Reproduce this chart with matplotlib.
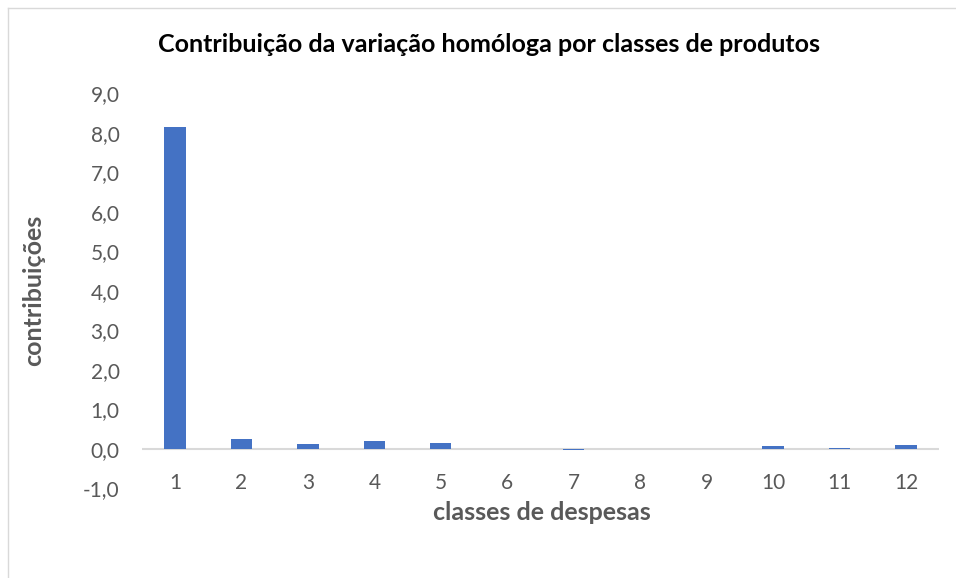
import matplotlib
matplotlib.use("Agg")
import matplotlib.pyplot as plt
from matplotlib.lines import Line2D

categories = [str(i) for i in range(1, 13)]
values = [8.15, 0.25, 0.12, 0.20, 0.15, 0.0, -0.03, 0.01, 0.01, 0.07, 0.02, 0.09]
yticks = [-1, 0, 1, 2, 3, 4, 5, 6, 7, 8, 9]

plt.rcParams['font.family'] = ['Lato', 'DejaVu Sans']

fig = plt.figure(figsize=(9.56, 5.78), dpi=100)
ax = fig.add_axes([141.8/956, (578-488.5)/578, (939.2-141.8)/956, (488.5-93.5)/578])

x = list(range(len(categories)))
ax.bar(x, values, width=0.32, color='#4472C4', zorder=3)
ax.set_xlim(-0.5, len(categories) - 0.5)
ax.set_ylim(-1, 9)
ax.set_yticks(yticks)
ax.set_yticklabels([f"{v:.1f}".replace('.', ',') for v in yticks])
ax.set_xticks(x)
ax.set_xticklabels([])

for s in ax.spines.values():
    s.set_visible(False)
ax.axhline(0, color='#D9D9D9', lw=1.5, zorder=2)
ax.tick_params(axis='both', length=0, labelsize=15, colors='#595959')
ax.tick_params(axis='y', pad=16)

for i, c in enumerate(categories):
    ax.annotate(c, xy=(i, 0), xytext=(0, -17), textcoords='offset points',
                ha='center', va='top', fontsize=15, color='#595959')

fig.text(489/956, 1 - 45/578, "Contribuição da variação homóloga por classes de produtos",
         ha='center', va='center', fontsize=18, fontweight='bold', color='black')
fig.text(542/956, 1 - 512/578, "classes de despesas", ha='center', va='center',
         fontsize=18, fontweight='bold', color='#595959')
fig.text(34/956, 1 - 290/578, "contribuições", ha='center', va='center', rotation=90,
         fontsize=18, fontweight='bold', color='#595959')

# chart border
fig.add_artist(Line2D([8/956, 8/956], [0, 1 - 8/578], color='#D9D9D9', lw=1, transform=fig.transFigure))
fig.add_artist(Line2D([8/956, 1], [1 - 8/578, 1 - 8/578], color='#D9D9D9', lw=1, transform=fig.transFigure))

fig.savefig("out.png", dpi=100)
